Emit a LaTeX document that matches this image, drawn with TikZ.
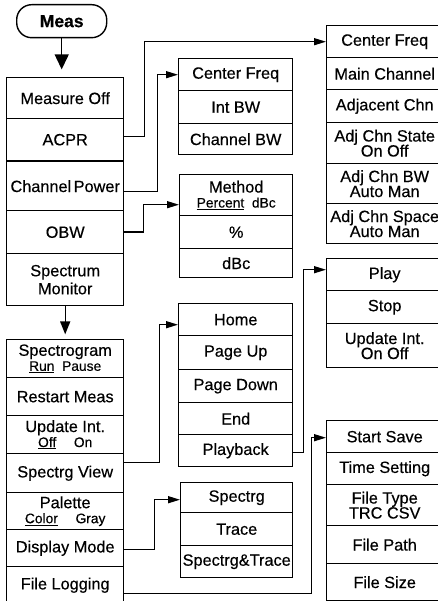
\documentclass[tikz,border=0pt]{standalone}
\usepackage{fontspec}
\setmainfont{Liberation Sans}[FakeBold=0.4]
\usetikzlibrary{arrows.meta}
\newcommand\mfont{\fontsize{16.3}{15}\selectfont\lineskiplimit=-30pt\relax}
\newcommand\mfontwide{\fontsize{16.3}{18}\selectfont\lineskiplimit=-30pt\relax}
\newcommand\sfnt{\fontsize{13.8}{14}\selectfont}
\begin{document}
\begin{tikzpicture}[x=1pt,y=-1pt,line width=1.4pt,
  item/.style={draw, line width=1.4pt, anchor=north west, inner sep=0pt, align=center, font=\mfont},
  cA/.style={item, minimum width=117pt},
  cB/.style={item, minimum width=114pt},
  cC/.style={item, minimum width=116pt},
  bigarrow/.style={-{Triangle[length=15pt,width=14pt]}},
  medarrow/.style={-{Triangle[length=13pt,width=10pt]}},
  smallarrow/.style={-{Triangle[length=12pt,width=7pt]}}]
\useasboundingbox (0,0) rectangle (438,601);
\clip (0,0) rectangle (438,601);
% Meas key
\node[draw, rounded corners=15pt, minimum width=90pt, minimum height=33pt, anchor=north west, inner sep=0pt,
  font=\fontsize{17.5}{17}\selectfont\bfseries] (meas) at (16,4) {Meas};
% column 1
\node[cA, minimum height=41pt] (measoff) at (6,77) {Measure Off};
\node[cA, minimum height=42pt] (acpr) at (6,118) {ACPR};
\node[cA, minimum height=49pt] (chpow) at (6,161) {Channel\kern2.5pt Power};
\node[cA, minimum height=43pt] (obw) at (6,210) {OBW};
\node[cA, minimum height=52pt, font=\mfontwide] (specmon) at (6,253) {Spectrum\\Monitor};
\node[cA, minimum height=38pt] (spectrogram) at (6,339) {Spectrogram\\{\sfnt\underline{Run}\ \ Pause}};
\node[cA, minimum height=38pt] (restart) at (6,377) {Restart Meas};
\node[cA, minimum height=38pt] (updint) at (6,415) {Update Int.\\{\sfnt\underline{Off}\quad\ On}};
\node[cA, minimum height=39pt] (specview) at (6,453) {Spectrg View};
\node[cA, minimum height=37pt] (palette) at (6,492) {Palette\\{\sfnt\underline{Color}\quad\ Gray}};
\node[cA, minimum height=37pt] (dispmode) at (6,529) {Display Mode};
\node[cA, minimum height=37pt] (filelog) at (6,566) {File Logging};
% column 2
\node[cB, minimum height=32pt] (cf2) at (178,58) {Center Freq};
\node[cB, minimum height=33pt] (intbw) at (178,90) {Int BW};
\node[cB, minimum height=31pt] (chbw) at (178,123) {Channel BW};
\node[cB, minimum width=113pt, minimum height=41pt] (method) at (179,174) {Method\\{\sfnt\underline{Percent}\ \ dBc}};
\node[cB, minimum width=113pt, minimum height=33pt] (pct) at (179,215) {\%};
\node[cB, minimum width=113pt, minimum height=29pt] (dbc) at (179,248) {dBc};
\node[cB, minimum height=32pt] (home) at (178,303) {Home};
\node[cB, minimum height=34pt] (pgup) at (178,335) {Page Up};
\node[cB, minimum height=33pt] (pgdn) at (178,369) {Page Down};
\node[cB, minimum height=32pt] (end) at (178,402) {End};
\node[cB, minimum height=32pt] (playback) at (178,434) {Playback};
\node[cB, minimum width=112pt, minimum height=30pt] (spectrg) at (180,482) {Spectrg};
\node[cB, minimum width=112pt, minimum height=33pt] (trace) at (180,512) {Trace};
\node[cB, minimum width=112pt, minimum height=32pt] (st) at (180,545) {Spectrg\&Trace};
% column 3
\node[cC, minimum height=32pt] (cf3) at (326,25) {Center Freq};
\node[cC, minimum height=32pt] (mainch) at (326,57) {Main Channel};
\node[cC, minimum height=33pt] (adjchn) at (326,89) {Adjacent Chn};
\node[cC, minimum height=41pt] (acstate) at (326,122) {Adj Chn State\\On Off};
\node[cC, minimum height=40pt] (acbw) at (326,163) {Adj Chn BW\\Auto Man};
\node[cC, minimum height=40pt] (acspace) at (326,203) {Adj Chn Space\\Auto Man};
\node[cC, minimum height=32pt] (play) at (326,258) {Play};
\node[cC, minimum height=33pt] (stop) at (326,290) {Stop};
\node[cC, minimum height=44pt] (updint2) at (326,323) {Update Int.\\On Off};
\node[cC, minimum height=32pt] (startsave) at (326,420) {Start Save};
\node[cC, minimum height=32pt] (timeset) at (326,452) {Time Setting};
\node[cC, minimum height=41pt] (filetype) at (326,484) {File Type\\TRC CSV};
\node[cC, minimum height=38pt] (filepath) at (326,525) {File Path};
\node[cC, minimum height=37pt] (filesize) at (326,563) {File Size};
% connectors
\draw[bigarrow] (meas.south) -- ++(0,31);
\draw[medarrow] (specmon.south) -- ++(0,28);
\draw[smallarrow] ([yshift=3pt]acpr.east) -- ++(20,0) |- (cf3.west);
\draw[smallarrow] ([yshift=-5.5pt]chpow.east) -- ++(33,0) |- (cf2.west);
\draw[smallarrow] (obw.east) -- ++(19,0) |- ([yshift=-9.5pt]method.west);
\draw[smallarrow] ([yshift=10.5pt]specview.east) -- ++(35,0) |- ([yshift=-5pt]home.west);
\draw[smallarrow] ([yshift=-1.5pt]dispmode.east) -- ++(30,0) |- ([yshift=-2pt]spectrg.west);
\draw[smallarrow] ([yshift=-8.5pt]filelog.east) -- ++(187,0) |- ([yshift=-1pt]startsave.west);
\draw[smallarrow] ([yshift=-2pt]playback.east) -- ++(10,0) |- ([yshift=5pt]play.west);
\end{tikzpicture}
\end{document}
